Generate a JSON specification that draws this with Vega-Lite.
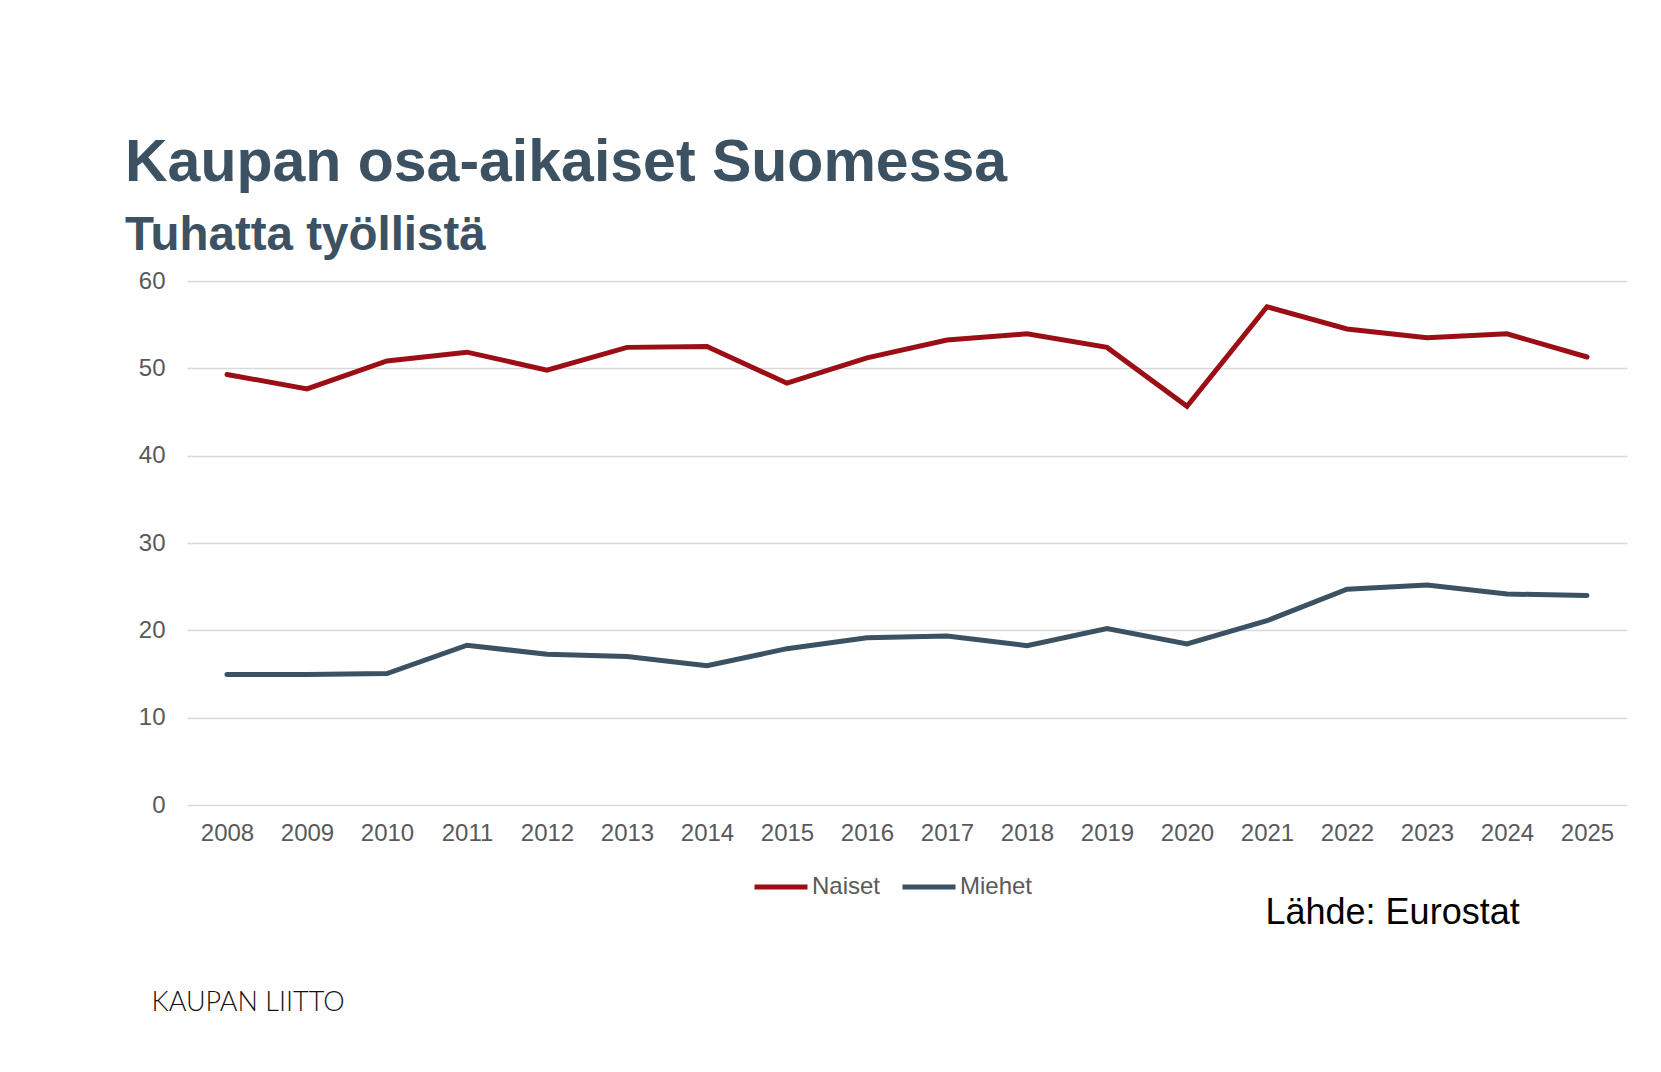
{
  "$schema": "https://vega.github.io/schema/vega-lite/v6.json",
  "description": "Kaupan osa-aikaiset Suomessa, tuhatta työllistä",
  "autosize": {"type": "none"},
  "width": 1440,
  "height": 524,
  "padding": {"left": 187, "top": 281, "right": 34, "bottom": 267},
  "background": "white",
  "title": {
    "text": "Kaupan osa-aikaiset Suomessa",
    "subtitle": "Tuhatta työllistä",
    "anchor": "start",
    "frame": "group",
    "dx": -62,
    "offset": 10,
    "font": "Liberation Sans",
    "fontSize": 59,
    "fontWeight": "bold",
    "color": "#3c5161",
    "subtitleFont": "Liberation Sans",
    "subtitleFontSize": 47.5,
    "subtitleFontWeight": "bold",
    "subtitleColor": "#3c5161",
    "subtitlePadding": 19
  },
  "data": {
    "values": [
      {"vuosi": "2008", "sarja": "Naiset", "arvo": 49.3},
      {"vuosi": "2009", "sarja": "Naiset", "arvo": 47.65},
      {"vuosi": "2010", "sarja": "Naiset", "arvo": 50.85},
      {"vuosi": "2011", "sarja": "Naiset", "arvo": 51.85},
      {"vuosi": "2012", "sarja": "Naiset", "arvo": 49.8},
      {"vuosi": "2013", "sarja": "Naiset", "arvo": 52.4},
      {"vuosi": "2014", "sarja": "Naiset", "arvo": 52.5},
      {"vuosi": "2015", "sarja": "Naiset", "arvo": 48.3},
      {"vuosi": "2016", "sarja": "Naiset", "arvo": 51.2},
      {"vuosi": "2017", "sarja": "Naiset", "arvo": 53.25},
      {"vuosi": "2018", "sarja": "Naiset", "arvo": 53.95},
      {"vuosi": "2019", "sarja": "Naiset", "arvo": 52.4},
      {"vuosi": "2020", "sarja": "Naiset", "arvo": 45.65},
      {"vuosi": "2021", "sarja": "Naiset", "arvo": 57.05},
      {"vuosi": "2022", "sarja": "Naiset", "arvo": 54.5},
      {"vuosi": "2023", "sarja": "Naiset", "arvo": 53.5},
      {"vuosi": "2024", "sarja": "Naiset", "arvo": 53.95},
      {"vuosi": "2025", "sarja": "Naiset", "arvo": 51.3},
      {"vuosi": "2008", "sarja": "Miehet", "arvo": 14.95},
      {"vuosi": "2009", "sarja": "Miehet", "arvo": 14.95},
      {"vuosi": "2010", "sarja": "Miehet", "arvo": 15.05},
      {"vuosi": "2011", "sarja": "Miehet", "arvo": 18.3},
      {"vuosi": "2012", "sarja": "Miehet", "arvo": 17.25},
      {"vuosi": "2013", "sarja": "Miehet", "arvo": 17.0},
      {"vuosi": "2014", "sarja": "Miehet", "arvo": 15.95},
      {"vuosi": "2015", "sarja": "Miehet", "arvo": 17.9},
      {"vuosi": "2016", "sarja": "Miehet", "arvo": 19.15},
      {"vuosi": "2017", "sarja": "Miehet", "arvo": 19.35},
      {"vuosi": "2018", "sarja": "Miehet", "arvo": 18.25},
      {"vuosi": "2019", "sarja": "Miehet", "arvo": 20.2},
      {"vuosi": "2020", "sarja": "Miehet", "arvo": 18.45},
      {"vuosi": "2021", "sarja": "Miehet", "arvo": 21.1},
      {"vuosi": "2022", "sarja": "Miehet", "arvo": 24.7},
      {"vuosi": "2023", "sarja": "Miehet", "arvo": 25.2},
      {"vuosi": "2024", "sarja": "Miehet", "arvo": 24.15},
      {"vuosi": "2025", "sarja": "Miehet", "arvo": 24.0}
    ]
  },
  "mark": {"type": "line", "strokeWidth": 5, "strokeCap": "round", "strokeJoin": "miter"},
  "encoding": {
    "x": {
      "field": "vuosi",
      "type": "ordinal",
      "scale": {"type": "point", "padding": 0.5},
      "axis": {
        "title": "Lähde: Eurostat",
        "titleX": 1078,
        "titleY": 118,
        "titleAlign": "left",
        "titleBaseline": "alphabetic",
        "titleFont": "Liberation Sans",
        "titleFontSize": 36,
        "titleFontWeight": "normal",
        "titleColor": "#000000",
        "labelAngle": 0,
        "labelFont": "Liberation Sans",
        "labelFontSize": 24,
        "labelColor": "#595959",
        "labelPadding": 16,
        "ticks": false,
        "domain": false,
        "grid": false
      }
    },
    "y": {
      "field": "arvo",
      "type": "quantitative",
      "scale": {"domain": [0, 60], "nice": false},
      "axis": {
        "values": [0, 10, 20, 30, 40, 50, 60],
        "title": "KAUPAN LIITTO",
        "titleAngle": 0,
        "titleX": -36,
        "titleY": 729,
        "titleAlign": "left",
        "titleBaseline": "alphabetic",
        "titleFont": "Lato",
        "titleFontSize": 27,
        "titleFontWeight": 300,
        "titleColor": "#111111",
        "labelFont": "Liberation Sans",
        "labelFontSize": 24,
        "labelColor": "#595959",
        "labelPadding": 22,
        "ticks": false,
        "domain": false,
        "gridColor": "#d9d9d9",
        "gridWidth": 1.5
      }
    },
    "color": {
      "field": "sarja",
      "type": "nominal",
      "scale": {"domain": ["Naiset", "Miehet"], "range": ["#9b0e16", "#3c5161"]},
      "legend": {
        "title": null,
        "orient": "none",
        "direction": "horizontal",
        "legendX": 565,
        "legendY": 577,
        "padding": 0,
        "symbolType": "stroke",
        "symbolSize": 2809,
        "symbolStrokeWidth": 5,
        "labelFont": "Liberation Sans",
        "labelFontSize": 24,
        "labelColor": "#595959",
        "labelOffset": 2,
        "columnPadding": 11
      }
    }
  },
  "config": {
    "font": "Liberation Sans",
    "view": {"stroke": null}
  }
}
